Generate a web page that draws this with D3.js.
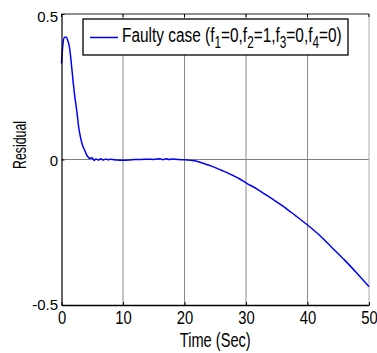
<!DOCTYPE html>
<html>
<head>
<meta charset="utf-8">
<script src="https://cdn.jsdelivr.net/npm/d3@7"></script>
<style>
  body { margin: 0; background: #fff; }
  svg { display: block; font-family: Arial, "Liberation Sans", sans-serif; }
</style>
</head>
<body>
<div id="chart"></div>
<script>
// residual of the faulty case
const time = [0, 0.25, 0.5, 0.8, 1.0, 1.3, 1.6, 1.9, 2.2, 2.5, 2.8, 3.1, 3.4, 3.8, 4.2, 4.6,
  5.0, 5.3, 5.6, 6.0, 6.4, 6.8, 7.2, 7.6, 8, 9, 10, 11, 12, 13, 14, 15, 16, 16.5, 17, 17.5,
  18, 19, 20, 21, 22, 23, 24, 25, 26, 27, 28, 29, 30, 32, 34, 36, 38, 40, 42, 44, 46, 48, 50]
const residual = [0.33, 0.40, 0.42, 0.42, 0.41, 0.385, 0.33, 0.265, 0.21, 0.165, 0.11, 0.075, 0.05, 0.03, 0.012, 0.004,
  0.006, -0.003, 0.002, -0.002, 0.003, -0.002, 0.002, -0.001, 0.001, -0.002, -0.003, -0.002, 0, 0, 0.001, 0, 0.003, -0.001, 0.003, 0,
  0.002, 0, -0.001, -0.003, -0.006, -0.013, -0.02, -0.028, -0.037, -0.046, -0.056, -0.067, -0.08, -0.104, -0.132, -0.16, -0.192, -0.225, -0.261, -0.303, -0.345, -0.39, -0.437]
const xTicks = [0, 10, 20, 30, 40, 50]
const yTicks = [-0.5, 0, 0.5]
const xTitle = 'Time (Sec)'
const yTitle = 'Residual'

const w = 377, h = 353
const m = {l: 61.5, r: 369, t: 14, b: 305}

const svg = d3.select('#chart').append('svg').attr('width', w).attr('height', h)

const x = d3.scaleLinear().domain([0, 50]).range([m.l, m.r])
const y = d3.scaleLinear().domain([-0.5, 0.5]).range([m.b, m.t])

// squeeze a text element horizontally so it is `target` px wide
function squeeze(sel, target) {
  sel.each(function() {
    const len = this.getComputedTextLength()
    const s = target / len
    const ax = +this.getAttribute('x') || 0
    d3.select(this).attr('transform', 'translate(' + ax + ',0) scale(' + s + ',1) translate(' + (-ax) + ',0)')
  })
}

// grid
svg.append('g').selectAll('line')
   .data(xTicks.slice(1, -1))
   .enter().append('line')
   .attr('x1', d => x(d)).attr('x2', d => x(d))
   .attr('y1', m.t).attr('y2', m.b)
   .attr('stroke', '#8a8a8a').attr('stroke-width', 1)
svg.append('line')
   .attr('x1', m.l).attr('x2', m.r).attr('y1', y(0)).attr('y2', y(0))
   .attr('stroke', '#808080').attr('stroke-width', 1)

// box
svg.append('line').attr('x1', m.r).attr('x2', m.r).attr('y1', m.t).attr('y2', m.b).attr('stroke', '#aaa')
svg.append('line').attr('x1', m.l).attr('x2', m.r).attr('y1', m.t).attr('y2', m.t).attr('stroke', '#222')

// curve
const line = d3.line().x((d, i) => x(time[i])).y(d => y(d)).curve(d3.curveMonotoneX)
svg.append('path')
   .attr('d', line(residual))
   .attr('fill', 'none')
   .attr('stroke', '#0000ff')
   .attr('stroke-width', 1.5)

// axes
const xA = svg.append('g')
   .attr('transform', 'translate(0,' + m.b + ')')
   .call(d3.axisBottom(x).tickValues(xTicks).tickSize(-3).tickPadding(6).tickSizeOuter(0))
xA.select('.domain').attr('stroke', '#000').attr('stroke-width', 1.5)
xA.selectAll('.tick line').attr('stroke', '#000')
xA.selectAll('text').attr('font-size', 19).attr('fill', '#000').attr('font-family', null)
  .attr('transform', 'scale(0.78,1)')

// little ticks on the top edge
svg.append('g').selectAll('line')
   .data(xTicks)
   .enter().append('line')
   .attr('x1', d => x(d)).attr('x2', d => x(d))
   .attr('y1', m.t).attr('y2', m.t + 3)
   .attr('stroke', '#000')

const yA = svg.append('g')
   .attr('transform', 'translate(' + m.l + ',0)')
   .call(d3.axisLeft(y).tickValues(yTicks).tickSize(-3).tickPadding(3.5).tickSizeOuter(0).tickFormat(d => String(d)))
yA.select('.domain').attr('stroke', '#000').attr('stroke-width', 1.2)
yA.selectAll('.tick line').attr('stroke', '#000')
yA.selectAll('text').attr('font-size', 15).attr('fill', '#000').attr('font-family', null)
  .attr('dy', d => d > 0 ? 7.7 : (d < 0 ? 4 : 5.5))

// axis titles
svg.append('text')
   .attr('x', (m.l + m.r) / 2).attr('y', 347)
   .attr('text-anchor', 'middle').attr('font-size', 19.5)
   .text(xTitle)
   .call(squeeze, 71)

svg.append('g').attr('transform', 'translate(26,145) rotate(-90)')
   .append('text')
   .attr('text-anchor', 'middle').attr('font-size', 18)
   .text(yTitle)
   .call(squeeze, 48)

// legend
const lg = svg.append('g')
lg.append('rect')
  .attr('x', 83).attr('y', 19).attr('width', 265).attr('height', 36)
  .attr('fill', '#fff').attr('stroke', '#000').attr('stroke-width', 1.3)
lg.append('line')
  .attr('x1', 90).attr('x2', 118).attr('y1', 37.5).attr('y2', 37.5)
  .attr('stroke', '#0000ff').attr('stroke-width', 1.5)

const lt = lg.append('text').attr('x', 122).attr('y', 42).attr('font-size', 21)
lt.append('tspan').text('Faulty case (f')
const parts = [['1', '=0,f'], ['2', '=1,f'], ['3', '=0,f'], ['4', '=0)']]
parts.forEach(p => {
  lt.append('tspan').attr('font-size', 16).attr('dy', 6).text(p[0])
  lt.append('tspan').attr('dy', -6).text(p[1])
})
lt.call(squeeze, 220)
</script>
</body>
</html>
